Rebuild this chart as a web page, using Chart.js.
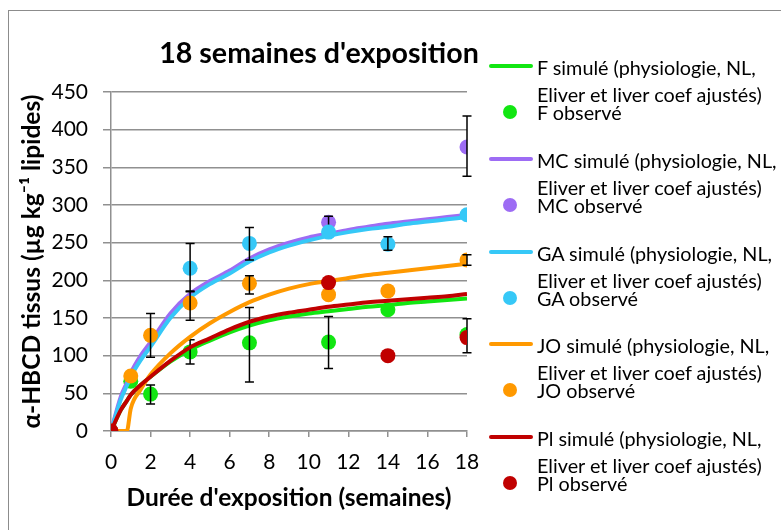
<!DOCTYPE html>
<html lang="fr">
<head>
  <meta charset="UTF-8">
  <title>18 semaines d'exposition</title>
  <script src="https://cdn.jsdelivr.net/npm/chart.js"></script>
  <style>
    body {
      margin: 0;
      background: #fff;
      font-family: Lato, "Open Sans", sans-serif;
    }
    #wrap {
      position: relative;
      width: 781px;
      height: 530px;
      overflow: hidden;
    }
    #frame {
      position: absolute;
      left: 8px;
      top: 10px;
      width: 900px;
      height: 700px;
      border: 1px solid #8c8c8c;
    }
    #chart {
      position: absolute;
      left: 0;
      top: 0;
    }
    #title {
      position: absolute;
      left: 319px;
      top: 36px;
      transform: translateX(-50%);
      font-weight: bold;
      font-size: 28.6px;
      line-height: 32px;
      white-space: nowrap;
      color: #000;
    }
    .leg-line {
      position: absolute;
      left: 489px;
      width: 44px;
      height: 4px;
      border-radius: 2px;
    }
    .leg-dot {
      position: absolute;
      left: 503px;
      width: 14px;
      height: 14px;
      border-radius: 50%;
    }
    .leg-text {
      position: absolute;
      left: 537px;
      font-size: 19.8px;
      line-height: 24px;
      white-space: nowrap;
      color: #000;
    }
  </style>
</head>
<body>
  <div id="wrap">
    <div id="frame"></div>
    <canvas id="chart" width="781" height="530"></canvas>
    <div id="title">18 semaines d'exposition</div>
    <div id="legend"></div>
  </div>
  <script>
    // temps (semaines) des courbes simulées
    const weeksSim = [0, 0.5, 0.8, 1, 1.5, 2, 3, 4, 5, 6, 7, 8, 9, 10, 11, 12, 13, 14, 15, 16, 17, 18];
    const simF  = [0, 28, 40, 48, 61, 72, 92, 108, 120, 131, 140, 147, 152, 156, 159, 162, 165, 167, 170, 172, 174, 176];
    const simMC = [0, 46, 64, 77, 100, 118, 156, 182, 199, 213, 229, 241, 250, 257, 262, 267, 271, 275, 278, 281, 284, 287];
    const simGA = [0, 42, 60, 72, 94, 112, 150, 177, 195, 209, 225, 237, 246, 253, 259, 264, 268, 271, 275, 278, 281, 284];
    const simJO = [0, 0, 0, 30, 55, 75, 103, 125, 143, 158, 171, 181, 189, 195, 199, 203, 207, 210, 213, 216, 219, 222];
    const simPl = [0, 28, 40, 48, 61, 72, 93, 111, 123, 135, 145, 152, 157, 161, 165, 168, 171, 173, 175, 177, 179, 182];

    // valeurs observées et barres d'erreur [bas, haut]
    const obsWeeksF = [0, 1, 2, 4, 7, 11, 14, 18];
    const obsF      = [0, 66, 49, 105, 117, 118, 161, 128];
    const errF      = [null, null, [36, 61], [89, 121], [65, 164], [83, 152], null, [104, 149]];
    const obsWeeksMC = [0, 11, 18];
    const obsMC      = [0, 277, 377];
    const errMC      = [null, [268, 285], [338, 418]];
    const obsWeeksGA = [0, 4, 7, 11, 14, 18];
    const obsGA      = [0, 216, 249, 264, 248, 287];
    const errGA      = [null, [185, 249], [227, 270], null, [240, 258], null];
    const obsWeeksJO = [0, 1, 2, 4, 7, 11, 14, 18];
    const obsJO      = [0, 73, 127, 170, 196, 181, 186, 227];
    const errJO      = [null, null, [98, 156], [147, 186], [182, 206], null, null, [220, 234]];
    const obsWeeksPl = [0, 11, 14, 18];
    const obsPl      = [0, 197, 100, 124];
    const errPl      = [null, null, null, null];

    const groups = ['F', 'MC', 'GA', 'JO', 'Pl'];
    const colors = ['#12e612', '#9d6cf4', '#36c8f7', '#ff9900', '#c00000'];
    const simSeries = [simF, simMC, simGA, simJO, simPl];
    const obsWeeks = [obsWeeksF, obsWeeksMC, obsWeeksGA, obsWeeksJO, obsWeeksPl];
    const obsSeries = [obsF, obsMC, obsGA, obsJO, obsPl];
    const errSeries = [errF, errMC, errGA, errJO, errPl];

    const FONT = 'Lato, "Open Sans", sans-serif';

    const datasets = [];
    groups.forEach((g, i) => {
      datasets.push({
        type: 'line',
        label: g + ' simulé (physiologie, NL, Eliver et liver coef ajustés)',
        data: weeksSim.map((t, k) => ({ x: t, y: simSeries[i][k] })),
        borderColor: colors[i],
        borderWidth: 4,
        pointRadius: 0,
        cubicInterpolationMode: 'monotone',
        fill: false
      });
      datasets.push({
        type: 'scatter',
        label: g + ' observé',
        data: obsWeeks[i].map((t, k) => ({ x: t, y: obsSeries[i][k] })),
        errors: errSeries[i],
        backgroundColor: colors[i],
        borderWidth: 0,
        pointRadius: 7.5,
        pointHoverRadius: 7.5
      });
    });
    // comme dans Excel, la dernière série est dessinée au-dessus
    datasets.forEach((d, i) => { d.order = datasets.length - i; });

    const errorBars = {
      id: 'errorBars',
      afterDatasetDraw(chart, args) {
        const ds = chart.data.datasets[args.index];
        if (!ds.errors) return;
        const ctx = chart.ctx;
        const xs = chart.scales.x, ys = chart.scales.y;
        ctx.save();
        ctx.strokeStyle = '#000';
        ctx.lineWidth = 1.5;
        ds.data.forEach((p, k) => {
          const e = ds.errors[k];
          if (!e) return;
          const px = xs.getPixelForValue(p.x);
          const lo = ys.getPixelForValue(e[0]);
          const hi = ys.getPixelForValue(e[1]);
          ctx.beginPath();
          ctx.moveTo(px, lo); ctx.lineTo(px, hi);
          ctx.moveTo(px - 4.5, lo); ctx.lineTo(px + 4.5, lo);
          ctx.moveTo(px - 4.5, hi); ctx.lineTo(px + 4.5, hi);
          ctx.stroke();
        });
        ctx.restore();
      }
    };

    new Chart(document.getElementById('chart'), {
      data: { datasets: datasets },
      options: {
        responsive: false,
        animation: false,
        events: [],
        layout: { padding: { left: 0, right: 314, top: 92, bottom: 0 } },
        plugins: {
          legend: { display: false },
          tooltip: { enabled: false }
        },
        scales: {
          x: {
            type: 'linear',
            min: 0,
            max: 18,
            afterFit: s => { s.height = 99; },
            ticks: { stepSize: 2, autoSkip: false, color: '#000', padding: 13, font: { family: FONT, size: 21 } },
            grid: { drawOnChartArea: false, drawTicks: true, tickLength: 6, color: '#909090', lineWidth: 1.5 },
            border: { color: '#909090', width: 1.5 },
            title: {
              display: true,
              text: "Durée d'exposition (semaines)",
              color: '#000',
              font: { family: FONT, size: 24.5, weight: 'bold' },
              padding: { top: 0, bottom: 17 }
            }
          },
          y: {
            type: 'linear',
            min: 0,
            max: 450,
            afterFit: s => { s.width = 111; },
            ticks: { stepSize: 50, color: '#000', padding: 15, font: { family: FONT, size: 21 } },
            grid: { color: '#909090', lineWidth: 1.5, tickLength: 8 },
            border: { color: '#909090', width: 1.5 },
            title: {
              display: true,
              text: 'α-HBCD tissus (µg kg⁻¹ lipides)',
              color: '#000',
              font: { family: FONT, size: 24.5, weight: 'bold' },
              padding: { top: 17, bottom: 0 }
            }
          }
        }
      },
      plugins: [errorBars]
    });

    // légende à droite
    const legend = document.getElementById('legend');
    groups.forEach((g, i) => {
      const y0 = 66 + 92.75 * i;
      legend.insertAdjacentHTML('beforeend',
        `<div class="leg-line" style="top:${y0 - 2}px;background:${colors[i]}"></div>` +
        `<div class="leg-text" style="top:${y0 - 11}px">${g} simulé (physiologie, NL,</div>` +
        `<div class="leg-text" style="top:${y0 + 16}px">Eliver et liver coef ajustés)</div>` +
        `<div class="leg-dot" style="top:${y0 + 39}px;background:${colors[i]}"></div>` +
        `<div class="leg-text" style="top:${y0 + 34}px">${g} observé</div>`);
    });
  </script>
</body>
</html>
